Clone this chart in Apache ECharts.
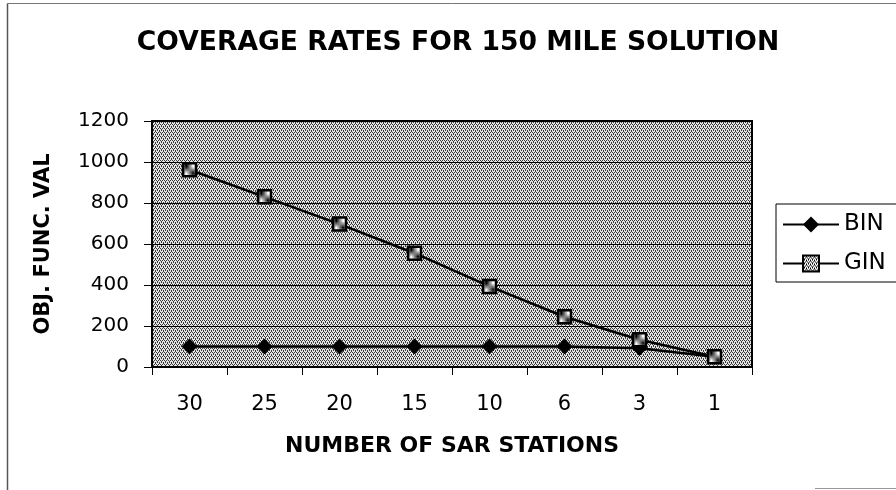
<!DOCTYPE html>
<html><head><meta charset="utf-8">
<script src="https://cdn.jsdelivr.net/npm/echarts@6/dist/echarts.min.js"></script>
<style>html,body{margin:0;padding:0;background:#fff}#c{width:896px;height:490px}</style>
</head><body><div id="c"></div>
<script>
const categories = ['30','25','20','15','10','6','3','1'];
const binValues = [100, 100, 100, 100, 100, 100, 92, 50];
const ginValues = [962, 830, 697, 555, 393, 245, 133, 50];
const yTicks = [0, 200, 400, 600, 800, 1000, 1200];

function makePattern(bg, fg) {
  const c = document.createElement('canvas');
  c.width = 4; c.height = 4;
  const g = c.getContext('2d');
  g.fillStyle = bg; g.fillRect(0, 0, 4, 4);
  g.fillStyle = fg;
  g.fillRect(0, 0, 1, 1); g.fillRect(2, 0, 1, 1);
  g.fillRect(1, 2, 1, 1); g.fillRect(3, 2, 1, 1);
  g.fillRect(1, 1, 1, 1); g.fillRect(3, 3, 1, 1);
  return c;
}
const pat = { image: makePattern('#e4e4e4', '#3a3a3a'), repeat: 'repeat' };
const markPat = { image: makePattern('#ffffff', '#000000'), repeat: 'repeat' };

const chart = echarts.init(document.getElementById('c'), null, {renderer: 'canvas'});
const font = '"DejaVu Sans", sans-serif';
chart.setOption({
  animation: false,
  title: {
    text: 'COVERAGE RATES FOR 150 MILE SOLUTION',
    left: 453, top: 25, textAlign: 'center',
    textStyle: { fontFamily: font, fontSize: 26.6, fontWeight: 'bold', color: '#000' }
  },
  graphic: [
    { type: 'line', shape: { x1: 7.5, y1: 3.5, x2: 896, y2: 3.5 }, style: { stroke: '#777', lineWidth: 1 }, z: -10 },
    { type: 'line', shape: { x1: 7.5, y1: 3.5, x2: 7.5, y2: 490 }, style: { stroke: '#555', lineWidth: 1.5 }, z: -10 },
    { type: 'line', shape: { x1: 815, y1: 488.5, x2: 896, y2: 488.5 }, style: { stroke: '#999', lineWidth: 1 }, z: -10 }
  ],
  legend: {
    orient: 'vertical', left: 776, top: 204,
    padding: [9, 14, 7, 6], itemGap: 16,
    borderColor: '#000', borderWidth: 1, backgroundColor: '#fff',
    itemWidth: 56, itemHeight: 20,
    textStyle: { fontFamily: font, fontSize: 23, color: '#000', padding: [0, 0, 0, 0] },
    data: ['BIN', 'GIN']
  },
  grid: {
    left: 152, top: 121, width: 600, height: 246,
    show: true, backgroundColor: pat, borderColor: '#000', borderWidth: 2
  },
  xAxis: {
    type: 'category', data: categories, boundaryGap: true,
    name: 'NUMBER OF SAR STATIONS', nameLocation: 'middle', nameGap: 68,
    nameTextStyle: { fontFamily: font, fontSize: 22, fontWeight: 'bold', color: '#000' },
    axisLine: { lineStyle: { color: '#000', width: 2 } },
    axisTick: { show: true, inside: false, length: 8, lineStyle: { color: '#000', width: 1 } },
    axisLabel: { margin: 27, fontFamily: font, fontSize: 21, color: '#000' }
  },
  yAxis: {
    type: 'value', min: 0, max: 1200, interval: 200,
    name: 'OBJ. FUNC. VAL', nameLocation: 'middle', nameGap: 98, nameRotate: 90,
    nameTextStyle: { fontFamily: font, fontSize: 21, fontWeight: 'bold', color: '#000' },
    axisLine: { show: true, lineStyle: { color: '#000', width: 2 } },
    axisTick: { show: true, length: 8, lineStyle: { color: '#000', width: 1 } },
    axisLabel: { margin: 23, fontFamily: font, fontSize: 20, color: '#000',
      formatter: v => yTicks.includes(v) ? String(v) : '' },
    splitLine: { show: true, lineStyle: { color: '#000', width: 1 } }
  },
  series: [{
    name: 'BIN', type: 'line', data: binValues,
    symbol: 'diamond', symbolSize: 15,
    lineStyle: { color: '#000', width: 2.5 },
    itemStyle: { color: '#000', borderColor: '#000' }
  }, {
    name: 'GIN', type: 'line', data: ginValues,
    symbol: 'rect', symbolSize: 13,
    lineStyle: { color: '#000', width: 2.5 },
    itemStyle: { color: markPat, borderColor: '#000', borderWidth: 2.5 }
  }]
});
</script></body></html>
